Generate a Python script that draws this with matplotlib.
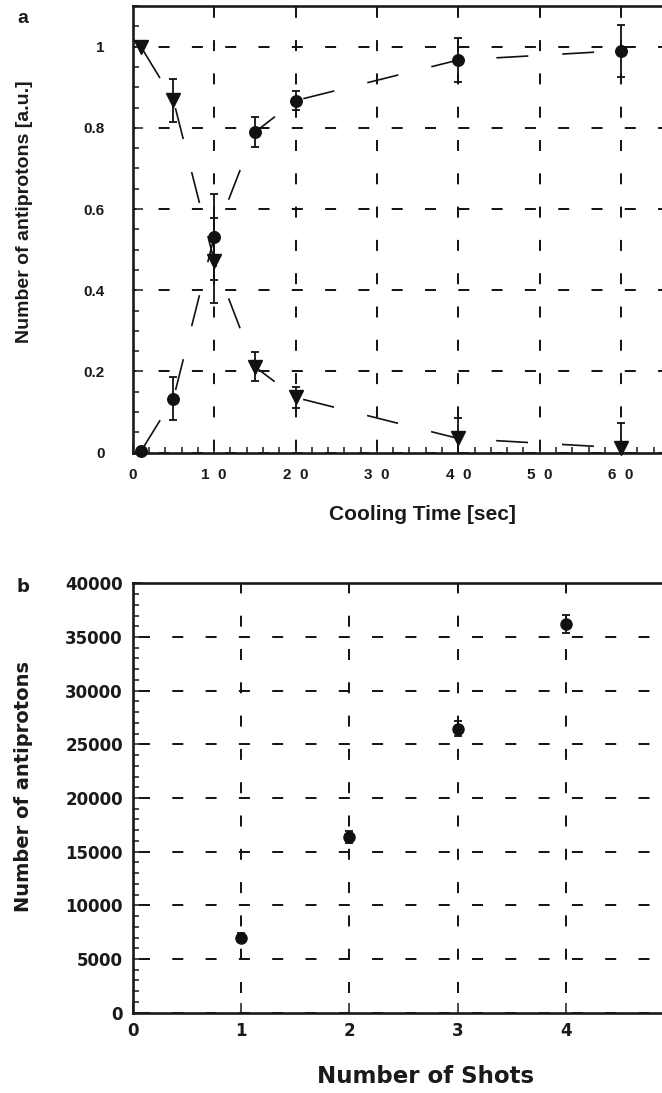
import matplotlib
matplotlib.use('Agg')
import matplotlib.pyplot as plt
from matplotlib.ticker import MultipleLocator, FixedLocator

plt.rcParams['lines.scale_dashes'] = False

# ------------- panel a: cooling time scan -------------
cool_time = [1, 5, 10, 15, 20, 40, 60]
circ_val = [0.003, 0.133, 0.531, 0.789, 0.867, 0.967, 0.990]
circ_err = [0.0, 0.053, 0.105, 0.037, 0.024, 0.053, 0.064]
tri_val = [1.0, 0.868, 0.473, 0.212, 0.136, 0.035, 0.012]
tri_err = [0.0, 0.053, 0.105, 0.036, 0.025, 0.050, 0.060]

xticks_a = [0, 10, 20, 30, 40, 50, 60]
xlabels_a = ['0', '1  0', '2  0', '3  0', '4  0', '5  0', '6  0']
yticks_a = [0, 0.2, 0.4, 0.6, 0.8, 1.0]
ylabels_a = ['0', '0.2', '0.4', '0.6', '0.8', '1']

# ------------- panel b: accumulation -------------
shots = [1, 2, 3, 4]
pbar = [7000, 16400, 26450, 36200]
pbar_err = [400, 550, 700, 850]

xticks_b = [0, 1, 2, 3, 4]
yticks_b = [0, 5000, 10000, 15000, 20000, 25000, 30000, 35000, 40000]

W, H = 662, 1093
PX = 0.72  # points per pixel at dpi 100

fontA = 'Liberation Sans'
fontB = 'DejaVu Sans'

fig = plt.figure(figsize=(W / 100, H / 100), dpi=100)


def fx(x):
    return x / W


def fy(y):
    return 1 - y / H


def grid_style(ax, hoff, voff):
    dash = (11 * PX, 22.3 * PX)
    ax.yaxis.grid(True, color='#111111', lw=1.4, linestyle=(hoff * PX, dash))
    ax.xaxis.grid(True, color='#111111', lw=1.4, linestyle=(voff * PX, dash))
    ax.set_axisbelow(True)
    ax.spines['right'].set_visible(False)
    for s in ['left', 'bottom', 'top']:
        ax.spines[s].set_linewidth(1.9)
        ax.spines[s].set_color('#1a1a1a')
    ax.tick_params(which='both', direction='in', width=1.1, color='#1a1a1a',
                   right=False, top=False)
    ax.tick_params(which='major', length=7)
    ax.tick_params(which='minor', length=4.3)


# ---- panel a ----
left = 132.7
ax_a = fig.add_axes([fx(left), fy(452.7), 1 - fx(left), (452.7 - 6) / H])
ax_a.set_xlim(0, (W - left) / 8.14)
ax_a.set_ylim(0, 1.1)
grid_style(ax_a, 7.7, 31)
ax_a.xaxis.set_major_locator(FixedLocator(xticks_a))
ax_a.xaxis.set_minor_locator(MultipleLocator(2))
ax_a.yaxis.set_major_locator(FixedLocator(yticks_a))
ax_a.yaxis.set_minor_locator(MultipleLocator(0.05))
ax_a.set_xticklabels(xlabels_a, fontfamily=fontA, fontweight='bold', fontsize=11, color='#1a1a1a')
ax_a.set_yticklabels(ylabels_a, fontfamily=fontA, fontweight='bold', fontsize=11, color='#1a1a1a')
ax_a.tick_params(axis='x', which='major', pad=11)
ax_a.tick_params(axis='y', which='major', pad=20)

line_dash = (44, (23, 24.5))
ax_a.plot(cool_time, circ_val, color='#111111', lw=1.2, linestyle=line_dash)
ax_a.plot(cool_time, tri_val, color='#111111', lw=1.2, linestyle=line_dash)
ax_a.errorbar(cool_time, circ_val, yerr=circ_err, fmt='none', ecolor='#111111',
              elinewidth=1.3, capsize=2.9, capthick=1.3)
ax_a.errorbar(cool_time, tri_val, yerr=tri_err, fmt='none', ecolor='#111111',
              elinewidth=1.3, capsize=2.9, capthick=1.3)
ax_a.plot(cool_time, circ_val, 'o', color='#111111', ms=8.3, clip_on=False, zorder=5)
ax_a.plot(cool_time, tri_val, 'v', color='#111111', ms=9.4, clip_on=False, zorder=5)

fig.text(fx(17), fy(23), 'a', fontfamily=fontA, fontweight='bold', fontsize=14,
         ha='left', va='baseline', color='#1a1a1a')
fig.text(fx(25), fy(212), 'Number of antiprotons [a.u.]', fontfamily=fontA,
         fontweight='bold', fontsize=14, rotation=90, ha='center', va='center',
         color='#1a1a1a')
fig.text(fx(422), fy(520), 'Cooling Time [sec]', fontfamily=fontA, fontweight='bold',
         fontsize=15, ha='center', va='baseline', color='#1a1a1a')

# ---- panel b ----
ax_b = fig.add_axes([fx(left), fy(1012.7), 1 - fx(left), (1012.7 - 583.3) / H])
ax_b.set_xlim(0, (W - left) / 108.3)
ax_b.set_ylim(0, 40000)
grid_style(ax_b, 27.3, 13.3)
ax_b.xaxis.set_major_locator(FixedLocator(xticks_b))
ax_b.yaxis.set_major_locator(FixedLocator(yticks_b))
ax_b.yaxis.set_minor_locator(MultipleLocator(1000))
ax_b.set_xticklabels([str(v) for v in xticks_b], fontfamily=fontB, fontweight='bold',
                     fontsize=12, color='#1a1a1a')
ax_b.set_yticklabels([str(v) for v in yticks_b], fontfamily=fontB, fontweight='bold',
                     fontsize=12, color='#1a1a1a')
ax_b.tick_params(axis='x', which='major', pad=7)
ax_b.tick_params(axis='y', which='major', pad=7)

ax_b.errorbar(shots, pbar, yerr=pbar_err, fmt='none', ecolor='#111111',
              elinewidth=1.3, capsize=2.9, capthick=1.3)
ax_b.plot(shots, pbar, 'o', color='#111111', ms=8, zorder=5)

fig.text(fx(17), fy(592), 'b', fontfamily=fontB, fontweight='bold', fontsize=13,
         ha='left', va='baseline', color='#1a1a1a')
fig.text(fx(23.5), fy(786), 'Number of antiprotons', fontfamily=fontB,
         fontweight='bold', fontsize=14, rotation=90, ha='center', va='center',
         color='#1a1a1a')
fig.text(fx(426), fy(1083), 'Number of Shots', fontfamily=fontB, fontweight='bold',
         fontsize=16.5, ha='center', va='baseline', color='#1a1a1a')

fig.savefig('out.png', dpi=100)
